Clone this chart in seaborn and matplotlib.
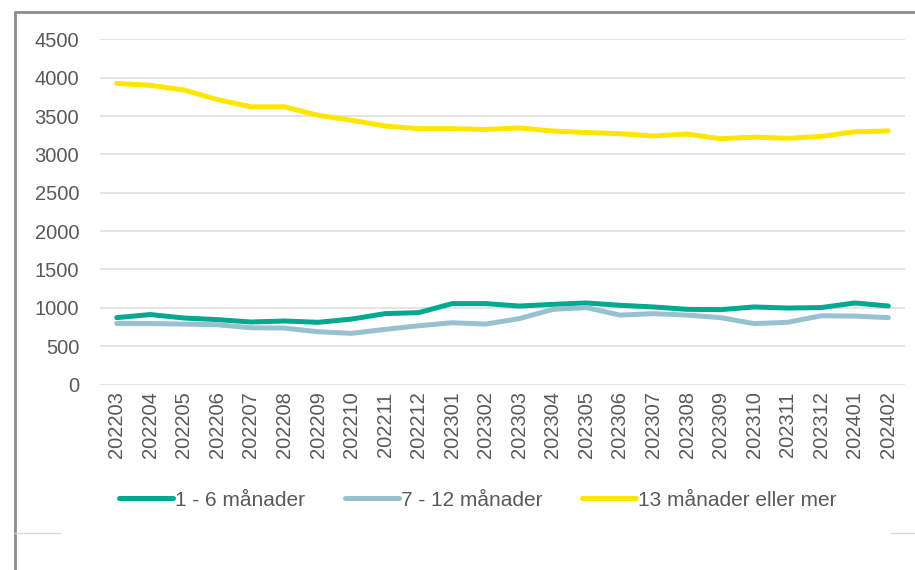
import numpy as np
import pandas as pd
import matplotlib
matplotlib.use("Agg")
import matplotlib.pyplot as plt
import seaborn as sns
from matplotlib.lines import Line2D

months = ["202203", "202204", "202205", "202206", "202207", "202208",
          "202209", "202210", "202211", "202212", "202301", "202302",
          "202303", "202304", "202305", "202306", "202307", "202308",
          "202309", "202310", "202311", "202312", "202401", "202402"]

m1_6 = [872, 912, 867, 846, 815, 828, 811, 853, 924, 937, 1055, 1055,
        1023, 1045, 1063, 1033, 1011, 980, 976, 1011, 997, 1003, 1063, 1024]
m7_12 = [795, 795, 788, 779, 740, 736, 688, 667, 719, 766, 805, 788,
         859, 980, 1003, 905, 924, 905, 872, 794, 811, 896, 892, 872]
m13 = [3925, 3900, 3840, 3715, 3620, 3620, 3510, 3445, 3370, 3335, 3335, 3325,
       3345, 3305, 3285, 3270, 3240, 3265, 3205, 3225, 3210, 3235, 3295, 3305]

series_names = ["1 - 6 månader", "7 - 12 månader", "13 månader eller mer"]
colors = ["#00A98F", "#98C1CF", "#FFE600"]

df = pd.DataFrame({
    "month": months * 3,
    "pos": list(range(len(months))) * 3,
    "value": m1_6 + m7_12 + m13,
    "series": [s for s in series_names for _ in months],
})

sns.set_style("white")
plt.rcParams["font.family"] = ["Liberation Sans", "DejaVu Sans"]
text_color = "#595959"

fig = plt.figure(figsize=(9.15, 5.70), dpi=100)
ax = fig.add_axes([0.1093, 0.3254, 0.8798, 0.6056])

sns.lineplot(data=df, x="pos", y="value", hue="series", hue_order=series_names,
             palette=colors, linewidth=3.6, ax=ax, legend=False,
             solid_capstyle="round", solid_joinstyle="round")

ax.set_xlim(-0.5, len(months) - 0.5)
ax.set_ylim(0, 4500)
ax.set_yticks(range(0, 4501, 500))
ax.set_xticks(range(len(months)))
ax.set_xticklabels(months, rotation=90)
ax.tick_params(axis="both", length=0, labelsize=14.5, colors=text_color)
ax.tick_params(axis="x", pad=5)
ax.tick_params(axis="y", pad=15)
ax.yaxis.grid(True, color="#DCDCDC", linewidth=1.1)
ax.set_axisbelow(True)
for s in ax.spines.values():
    s.set_visible(False)
ax.set_xlabel("")
ax.set_ylabel("")

handles = [Line2D([], [], color=c, linewidth=3.6, solid_capstyle="round") for c in colors]
fig.legend(handles, series_names, loc="center", bbox_to_anchor=(478 / 915, 1 - 500 / 570),
           ncol=3, frameon=False, fontsize=15, labelcolor=text_color,
           handlelength=2.6, handletextpad=0.1, columnspacing=1.9)

# chart frame pieces
fig.add_artist(Line2D([15 / 915, 15 / 915], [0, 1 - 12 / 570], transform=fig.transFigure,
                      color="#8C8C8C", linewidth=2))
fig.add_artist(Line2D([15 / 915, 1], [1 - 12 / 570, 1 - 12 / 570], transform=fig.transFigure,
                      color="#8C8C8C", linewidth=2))
fig.add_artist(Line2D([15 / 915, 60 / 915], [1 - 533 / 570, 1 - 533 / 570],
                      transform=fig.transFigure, color="#D9D9D9", linewidth=1))
fig.add_artist(Line2D([891 / 915, 1], [1 - 533 / 570, 1 - 533 / 570],
                      transform=fig.transFigure, color="#D9D9D9", linewidth=1))

fig.savefig("out.png", dpi=100)
